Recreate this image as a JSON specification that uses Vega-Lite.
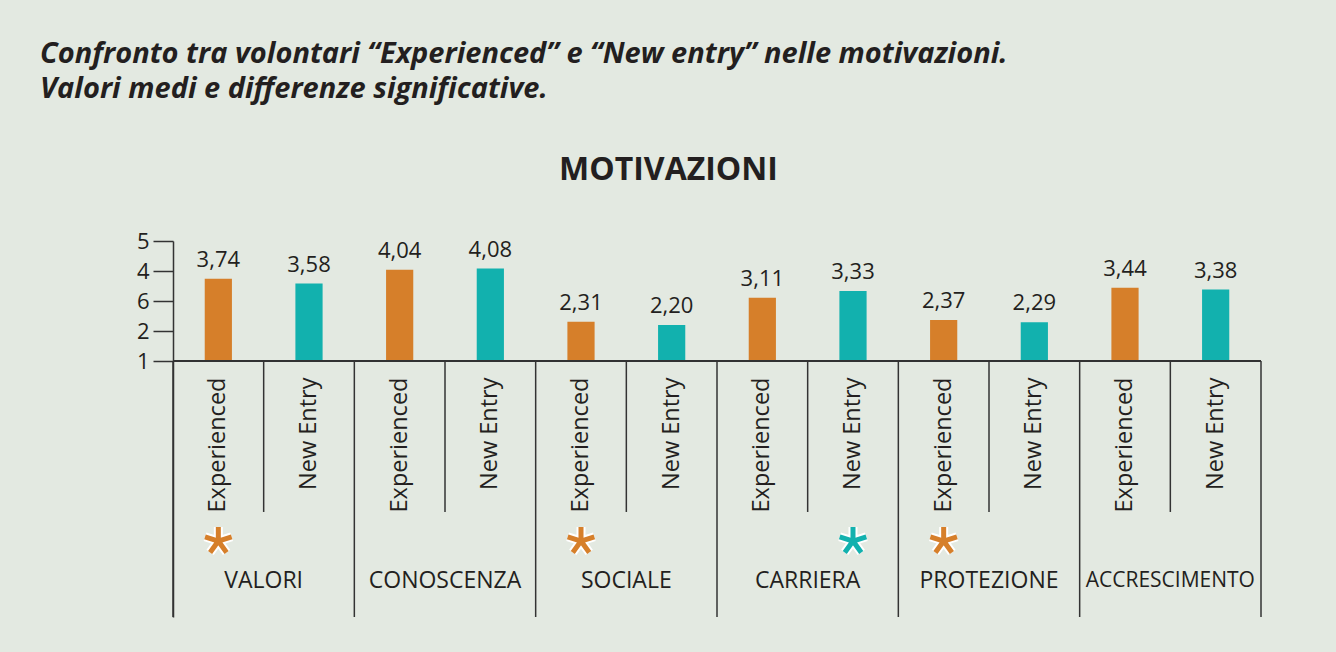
{
  "$schema": "https://vega.github.io/schema/vega-lite/v6.json",
  "width": 1088,
  "height": 376,
  "autosize": {"type": "none"},
  "padding": {"left": 173, "top": 241, "right": 75, "bottom": 35},
  "background": "#e3e9e1",
  "config": {"view": {"stroke": null}, "font": "Open Sans"},
  "title": {
    "text": ["Confronto tra volontari “Experienced” e “New entry” nelle motivazioni.", "Valori medi e differenze significative."],
    "anchor": "start",
    "frame": "group",
    "dx": -133,
    "dy": -45,
    "font": "Open Sans",
    "fontStyle": "italic",
    "fontWeight": "bold",
    "fontSize": 29,
    "lineHeight": 35,
    "color": "#231f20"
  },
  "data": {
    "values": [
      {"group": "VALORI", "sub": "Experienced", "key": "VALORI Experienced", "value": 3.74, "label": "3,74", "sig": true},
      {"group": "VALORI", "sub": "New Entry", "key": "VALORI New Entry", "value": 3.58, "label": "3,58", "sig": false},
      {"group": "CONOSCENZA", "sub": "Experienced", "key": "CONOSCENZA Experienced", "value": 4.04, "label": "4,04", "sig": false},
      {"group": "CONOSCENZA", "sub": "New Entry", "key": "CONOSCENZA New Entry", "value": 4.08, "label": "4,08", "sig": false},
      {"group": "SOCIALE", "sub": "Experienced", "key": "SOCIALE Experienced", "value": 2.31, "label": "2,31", "sig": true},
      {"group": "SOCIALE", "sub": "New Entry", "key": "SOCIALE New Entry", "value": 2.20, "label": "2,20", "sig": false},
      {"group": "CARRIERA", "sub": "Experienced", "key": "CARRIERA Experienced", "value": 3.11, "label": "3,11", "sig": false},
      {"group": "CARRIERA", "sub": "New Entry", "key": "CARRIERA New Entry", "value": 3.33, "label": "3,33", "sig": true},
      {"group": "PROTEZIONE", "sub": "Experienced", "key": "PROTEZIONE Experienced", "value": 2.37, "label": "2,37", "sig": true},
      {"group": "PROTEZIONE", "sub": "New Entry", "key": "PROTEZIONE New Entry", "value": 2.29, "label": "2,29", "sig": false},
      {"group": "ACCRESCIMENTO", "sub": "Experienced", "key": "ACCRESCIMENTO Experienced", "value": 3.44, "label": "3,44", "sig": false},
      {"group": "ACCRESCIMENTO", "sub": "New Entry", "key": "ACCRESCIMENTO New Entry", "value": 3.38, "label": "3,38", "sig": false}
    ]
  },
  "resolve": {"scale": {"x": "shared", "y": "shared", "color": "shared"}},
  "layer": [
    {
      "mark": {"type": "bar", "width": {"band": 0.3}},
      "encoding": {
        "x": {
          "field": "key", "type": "nominal",
          "scale": {"domain": ["VALORI Experienced", "VALORI New Entry", "CONOSCENZA Experienced", "CONOSCENZA New Entry", "SOCIALE Experienced", "SOCIALE New Entry", "CARRIERA Experienced", "CARRIERA New Entry", "PROTEZIONE Experienced", "PROTEZIONE New Entry", "ACCRESCIMENTO Experienced", "ACCRESCIMENTO New Entry"], "paddingInner": 0, "paddingOuter": 0},
          "axis": {"orient": "top", "labels": false, "ticks": false, "domain": false, "title": "MOTIVAZIONI", "titleFontSize": 32, "titleFontWeight": "bold", "titleColor": "#231f20", "titleX": 495, "titleY": -62, "titleBaseline": "alphabetic", "titleAlign": "center", "titleFont": "Open Sans"}
        },
        "y": {
          "field": "value", "type": "quantitative",
          "scale": {"domain": [-7.53, 5], "nice": false, "zero": false},
          "axis": {"values": [1, 2, 3, 4, 5], "title": null, "grid": false, "tickSize": 20, "tickColor": "#333333", "domainColor": "#333333", "tickWidth": 1.5, "domainWidth": 1.5, "labelFontSize": 22, "labelColor": "#231f20", "labelPadding": 4, "labelExpr": "datum.value == 3 ? '6' : datum.label", "labelFont": "Open Sans"}
        },
        "y2": {"datum": 1},
        "color": {"field": "sub", "type": "nominal", "scale": {"domain": ["Experienced", "New Entry"], "range": ["#d67f2a", "#12b1ae"]}, "legend": null}
      }
    },
    {
      "mark": {"type": "text", "baseline": "bottom", "dy": -7, "fontSize": 22, "color": "#231f20"},
      "encoding": {
        "x": {"field": "key", "type": "nominal"},
        "y": {"field": "value", "type": "quantitative"},
        "text": {"field": "label"}
      }
    },
    {
      "mark": {"type": "rule", "color": "#333333", "strokeWidth": 1.5},
      "encoding": {"y": {"datum": 1}}
    },
    {
      "transform": [{"filter": "datum.sub == 'Experienced'"}],
      "mark": {"type": "rule", "color": "#333333", "strokeWidth": 1.5},
      "encoding": {
        "x": {"field": "key", "type": "nominal", "bandPosition": 0},
        "y": {"datum": 1},
        "y2": {"datum": -7.53}
      }
    },
    {
      "transform": [{"filter": "datum.key == 'ACCRESCIMENTO New Entry'"}],
      "mark": {"type": "rule", "color": "#333333", "strokeWidth": 1.5},
      "encoding": {
        "x": {"field": "key", "type": "nominal", "bandPosition": 1},
        "y": {"datum": 1},
        "y2": {"datum": -7.53}
      }
    },
    {
      "transform": [{"filter": "datum.sub == 'New Entry'"}],
      "mark": {"type": "rule", "color": "#333333", "strokeWidth": 1.5},
      "encoding": {
        "x": {"field": "key", "type": "nominal", "bandPosition": 0},
        "y": {"datum": 1},
        "y2": {"datum": -4.03}
      }
    },
    {
      "mark": {"type": "text", "angle": 270, "align": "right", "baseline": "middle", "fontSize": 23.5, "color": "#231f20"},
      "encoding": {
        "x": {"field": "key", "type": "nominal"},
        "y": {"datum": 0.45},
        "text": {"field": "sub"}
      }
    },
    {
      "transform": [{"filter": "datum.sub == 'New Entry'"}],
      "mark": {"type": "text", "align": "center", "baseline": "middle", "color": "#231f20"},
      "encoding": {
        "x": {"field": "key", "type": "nominal", "bandPosition": 0},
        "y": {"datum": -6.32},
        "text": {"field": "group"},
        "size": {"condition": {"test": "datum.group == 'ACCRESCIMENTO'", "value": 21}, "value": 23}
      }
    },
    {
      "transform": [{"filter": "datum.sig"}],
      "mark": {"type": "point", "shape": "M0,0L0,-1M0,0L0.951,-0.309M0,0L0.588,0.809M0,0L-0.588,0.809M0,0L-0.951,-0.309", "filled": false, "size": 784, "stroke": "white", "strokeWidth": 9, "strokeCap": "butt", "opacity": 1},
      "encoding": {
        "x": {"field": "key", "type": "nominal"},
        "y": {"datum": -5}
      }
    },
    {
      "transform": [{"filter": "datum.sig"}],
      "mark": {"type": "point", "shape": "M0,0L0,-1M0,0L0.951,-0.309M0,0L0.588,0.809M0,0L-0.588,0.809M0,0L-0.951,-0.309", "filled": false, "size": 784, "strokeWidth": 5, "strokeCap": "butt", "opacity": 1},
      "encoding": {
        "x": {"field": "key", "type": "nominal"},
        "y": {"datum": -5},
        "stroke": {"field": "sub", "type": "nominal", "scale": {"domain": ["Experienced", "New Entry"], "range": ["#d67f2a", "#12b1ae"]}, "legend": null}
      }
    }
  ]
}
